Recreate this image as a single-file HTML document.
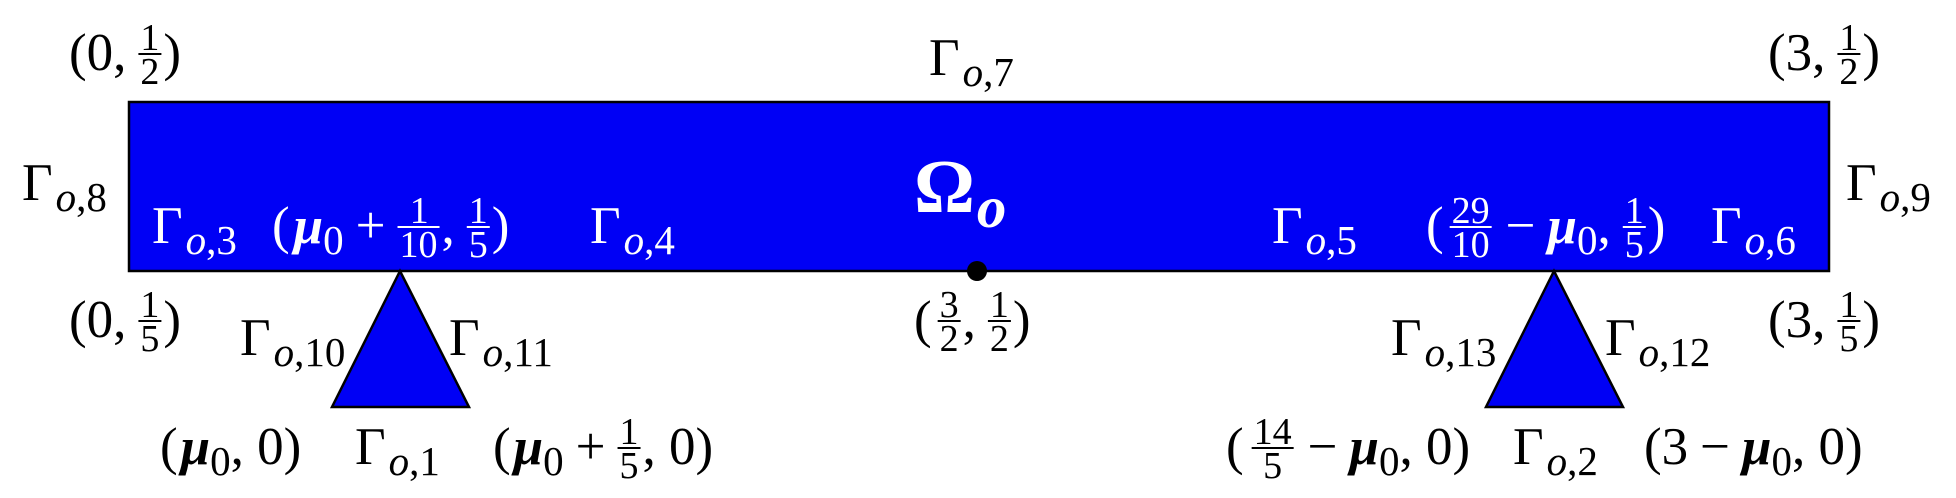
<!DOCTYPE html>
<html><head><meta charset="utf-8">
<style>
html,body{margin:0;padding:0;background:#fff;}
svg{display:block;}
text{font-family:"Liberation Serif",serif;}
</style></head>
<body>
<svg id="fig" width="1956" height="498" viewBox="0 0 1956 498">
<rect x="129" y="102" width="1700" height="169" fill="#0000f5" stroke="#000" stroke-width="2.5"/>
<polygon points="400,271 332,407 469,407" fill="#0000f5" stroke="#000" stroke-width="2.5"/>
<polygon points="1554,271 1486,407 1623,407" fill="#0000f5" stroke="#000" stroke-width="2.5"/>
<circle cx="977" cy="271" r="10" fill="#000"/>

<text class="lbl" data-x="69" data-y="70" fill="#000"><tspan class="t">(0,</tspan><tspan class="num" data-gap="12">1</tspan><tspan class="den">2</tspan><tspan class="t">)</tspan></text>
<text class="lbl" data-x="929" data-y="75" fill="#000"><tspan class="t">Γ</tspan><tspan class="si" data-gap="3">o</tspan><tspan class="s">,7</tspan></text>
<text class="lbl" data-x="1768" data-y="70" fill="#000"><tspan class="t">(3,</tspan><tspan class="num" data-gap="12">1</tspan><tspan class="den">2</tspan><tspan class="t">)</tspan></text>
<text class="lbl" data-x="22" data-y="200" fill="#000"><tspan class="t">Γ</tspan><tspan class="si" data-gap="3">o</tspan><tspan class="s">,8</tspan></text>
<text class="lbl" data-x="1846" data-y="200" fill="#000"><tspan class="t">Γ</tspan><tspan class="si" data-gap="3">o</tspan><tspan class="s">,9</tspan></text>
<text class="lbl" data-x="914" data-y="212" data-size="76" data-bold="1" fill="#fff"><tspan class="t">Ω</tspan><tspan class="si" data-gap="2">o</tspan></text>
<text class="lbl" data-x="152" data-y="243" fill="#fff"><tspan class="t">Γ</tspan><tspan class="si" data-gap="3">o</tspan><tspan class="s">,3</tspan></text>
<text class="lbl" data-x="272" data-y="243" fill="#fff"><tspan class="t">(</tspan><tspan class="i" data-gap="4">μ</tspan><tspan class="s">0</tspan><tspan class="t" data-gap="12">+</tspan><tspan class="num" data-gap="12">1</tspan><tspan class="den">10</tspan><tspan class="t">,</tspan><tspan class="num" data-gap="12">1</tspan><tspan class="den">5</tspan><tspan class="t">)</tspan></text>
<text class="lbl" data-x="590" data-y="243" fill="#fff"><tspan class="t">Γ</tspan><tspan class="si" data-gap="3">o</tspan><tspan class="s">,4</tspan></text>
<text class="lbl" data-x="1272" data-y="243" fill="#fff"><tspan class="t">Γ</tspan><tspan class="si" data-gap="3">o</tspan><tspan class="s">,5</tspan></text>
<text class="lbl" data-x="1426" data-y="243" fill="#fff"><tspan class="t">(</tspan><tspan class="num" data-gap="6">29</tspan><tspan class="den">10</tspan><tspan class="t" data-gap="12">−</tspan><tspan class="i" data-gap="12">μ</tspan><tspan class="s">0</tspan><tspan class="t">,</tspan><tspan class="num" data-gap="12">1</tspan><tspan class="den">5</tspan><tspan class="t">)</tspan></text>
<text class="lbl" data-x="1711" data-y="243" fill="#fff"><tspan class="t">Γ</tspan><tspan class="si" data-gap="3">o</tspan><tspan class="s">,6</tspan></text>
<text class="lbl" data-x="69" data-y="337" fill="#000"><tspan class="t">(0,</tspan><tspan class="num" data-gap="12">1</tspan><tspan class="den">5</tspan><tspan class="t">)</tspan></text>
<text class="lbl" data-x="240" data-y="355" fill="#000"><tspan class="t">Γ</tspan><tspan class="si" data-gap="3">o</tspan><tspan class="s">,10</tspan></text>
<text class="lbl" data-x="449" data-y="355" fill="#000"><tspan class="t">Γ</tspan><tspan class="si" data-gap="3">o</tspan><tspan class="s">,11</tspan></text>
<text class="lbl" data-x="914" data-y="337" fill="#000"><tspan class="t">(</tspan><tspan class="num" data-gap="6">3</tspan><tspan class="den">2</tspan><tspan class="t">,</tspan><tspan class="num" data-gap="12">1</tspan><tspan class="den">2</tspan><tspan class="t">)</tspan></text>
<text class="lbl" data-x="1391" data-y="355" fill="#000"><tspan class="t">Γ</tspan><tspan class="si" data-gap="3">o</tspan><tspan class="s">,13</tspan></text>
<text class="lbl" data-x="1605" data-y="355" fill="#000"><tspan class="t">Γ</tspan><tspan class="si" data-gap="3">o</tspan><tspan class="s">,12</tspan></text>
<text class="lbl" data-x="1768" data-y="337" fill="#000"><tspan class="t">(3,</tspan><tspan class="num" data-gap="12">1</tspan><tspan class="den">5</tspan><tspan class="t">)</tspan></text>
<text class="lbl" data-x="160" data-y="464" fill="#000"><tspan class="t">(</tspan><tspan class="i" data-gap="3">μ</tspan><tspan class="s">0</tspan><tspan class="t">, 0)</tspan></text>
<text class="lbl" data-x="355" data-y="464" fill="#000"><tspan class="t">Γ</tspan><tspan class="si" data-gap="3">o</tspan><tspan class="s">,1</tspan></text>
<text class="lbl" data-x="493" data-y="464" fill="#000"><tspan class="t">(</tspan><tspan class="i" data-gap="3">μ</tspan><tspan class="s">0</tspan><tspan class="t" data-gap="12">+</tspan><tspan class="num" data-gap="12">1</tspan><tspan class="den">5</tspan><tspan class="t">, 0)</tspan></text>
<text class="lbl" data-x="1226" data-y="464" fill="#000"><tspan class="t">(</tspan><tspan class="num" data-gap="8">14</tspan><tspan class="den">5</tspan><tspan class="t" data-gap="12">−</tspan><tspan class="i" data-gap="12">μ</tspan><tspan class="s">0</tspan><tspan class="t">, 0)</tspan></text>
<text class="lbl" data-x="1513" data-y="464" fill="#000"><tspan class="t">Γ</tspan><tspan class="si" data-gap="3">o</tspan><tspan class="s">,2</tspan></text>
<text class="lbl" data-x="1644" data-y="464" fill="#000"><tspan class="t">(3</tspan><tspan class="t" data-gap="12">−</tspan><tspan class="i" data-gap="12">μ</tspan><tspan class="s">0</tspan><tspan class="t">, 0)</tspan></text>
</svg>
<script>
(function(){
  var svg = document.getElementById('fig');
  var labels = svg.querySelectorAll('text.lbl');
  labels.forEach(function(t){
    var x = +t.getAttribute('data-x'), base = +t.getAttribute('data-y');
    var size = +(t.getAttribute('data-size') || 53);
    var fill = t.getAttribute('fill');
    if (t.getAttribute('data-bold')) t.setAttribute('font-weight','bold');
    var subSize = Math.round(size*0.78), fracSize = Math.round(size*0.72);
    var spans = Array.prototype.slice.call(t.querySelectorAll('tspan'));
    var cur = x;
    for (var k=0;k<spans.length;k++){
      var s = spans[k], c = s.getAttribute('class');
      cur += +(s.getAttribute('data-gap')||0);
      if (c==='num'){
        var d = spans[k+1];
        s.setAttribute('font-size', fracSize);
        d.setAttribute('font-size', fracSize);
        var w1 = s.getComputedTextLength(), w2 = d.getComputedTextLength();
        var w = Math.max(w1,w2)+4;
        var line = base - 16;
        s.setAttribute('x', cur + (w-w1)/2); s.setAttribute('y', line - 4);
        d.setAttribute('x', cur + (w-w2)/2); d.setAttribute('y', line + 30);
        var ln = document.createElementNS('http://www.w3.org/2000/svg','line');
        
        
        ln.setAttribute('x1', cur); ln.setAttribute('x2', cur+w);
        ln.setAttribute('y1', line); ln.setAttribute('y2', line);
        ln.setAttribute('stroke', fill); ln.setAttribute('stroke-width', 2);
        svg.appendChild(ln);
        cur += w + 2; k++;
        continue;
      }
      if (c==='s' || c==='si'){
        s.setAttribute('font-size', subSize);
        s.setAttribute('y', base + Math.round(size*0.2));
        if (c==='si') s.setAttribute('font-style','italic');
      } else {
        s.setAttribute('font-size', size);
        s.setAttribute('y', base);
        if (c==='i'){ s.setAttribute('font-style','italic'); s.setAttribute('font-weight','bold'); }
      }
      s.setAttribute('x', cur);
      cur += s.getComputedTextLength();
    }
  });
})();
</script>
</body></html>
